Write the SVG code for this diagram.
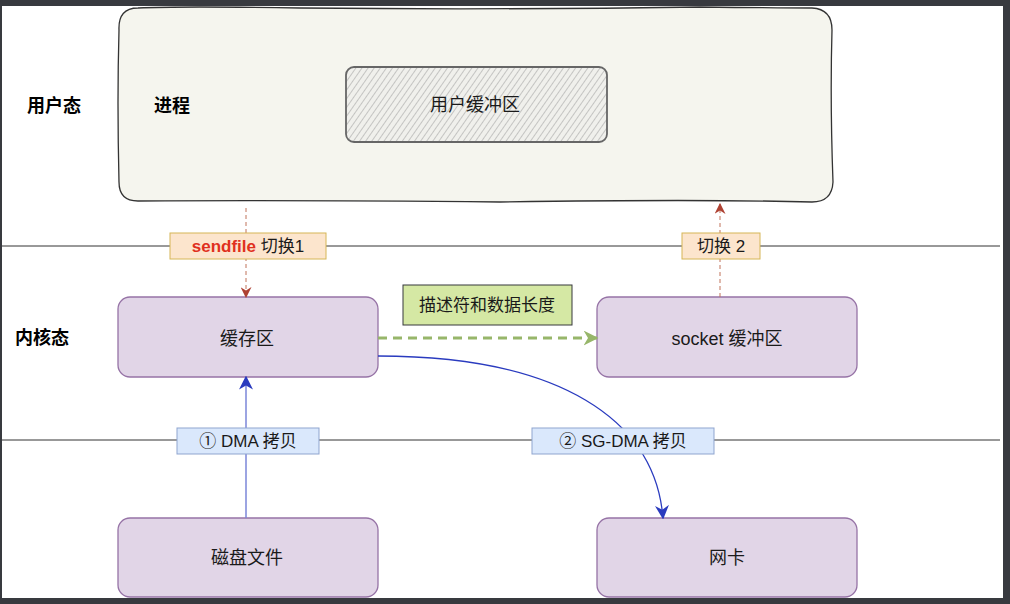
<svg xmlns="http://www.w3.org/2000/svg" width="1010" height="604" viewBox="0 0 1010 604">
<style>
.t{font-family:"Liberation Sans","Noto Sans CJK SC",sans-serif;font-size:18px;fill:#1a1a1a;text-anchor:middle;dominant-baseline:central}
.b{font-weight:bold;font-size:18px;fill:#000}
.l{font-size:17px}
.node{fill:#e1d5e7;stroke:#9673a6;stroke-width:1.3}
.sep{stroke:#333;stroke-width:1}
</style>
<defs>
<pattern id="hatch" width="5" height="5" patternUnits="userSpaceOnUse" patternTransform="rotate(35)">
<rect width="5" height="5" fill="#f0f0ec"/>
<line x1="0" y1="0" x2="0" y2="5" stroke="#999" stroke-width="1"/>
</pattern>
<marker id="mo" viewBox="0 0 10 10" refX="9" refY="5" markerWidth="11" markerHeight="11" orient="auto" markerUnits="userSpaceOnUse">
<path d="M0,0 L10,5 L0,10 L3,5 Z" fill="#ae4132"/>
</marker>
<marker id="mg" viewBox="0 0 10 10" refX="9" refY="5" markerWidth="15" markerHeight="15" orient="auto" markerUnits="userSpaceOnUse">
<path d="M0,0 L10,5 L0,10 L3,5 Z" fill="#97b66a"/>
</marker>
<marker id="mb" viewBox="0 0 10 10" refX="9" refY="5" markerWidth="14" markerHeight="14" orient="auto" markerUnits="userSpaceOnUse">
<path d="M0,0 L10,5 L0,10 L3,5 Z" fill="#2a3bbf"/>
</marker>
</defs>
<rect x="0" y="0" width="1010" height="604" fill="#383a3f"/>
<rect x="2" y="6" width="1001" height="592" fill="#ffffff"/>
<g id="separators">
<line class="sep" x1="2" y1="246" x2="1000" y2="246"/>
<line class="sep" x1="2" y1="440" x2="1000" y2="440"/>
</g>
<g id="labels-left">
<text class="t b" x="54" y="106">用户态</text>
<text class="t b" x="42" y="338">内核态</text>
</g>
<g id="process">
<path d="M138,8 Q180,6 300,8 Q500,10 700,7 Q780,8 812,8 Q832,9 832,30 Q830,100 833,182 Q832,202 812,202 Q700,199 500,202 Q300,200 138,201 Q119,201 119,182 Q117,100 119,30 Q118,8 138,8 Z" fill="#f5f5ee" stroke="#333" stroke-width="1.3"/>
<text class="t b" x="172" y="106">进程</text>
</g>
<g id="user-buffer">
<rect x="346" y="67" width="261" height="75" rx="8" fill="url(#hatch)" stroke="#666" stroke-width="1.8"/>
<text class="t" x="475" y="105" fill="#333">用户缓冲区</text>
</g>
<g id="cache">
<rect class="node" x="118" y="297" width="260" height="80" rx="12"/>
<text class="t" x="247" y="339">缓存区</text>
</g>
<g id="socket">
<rect class="node" x="597" y="297" width="260" height="80" rx="12"/>
<text class="t" x="727" y="339">socket 缓冲区</text>
</g>
<g id="disk">
<rect class="node" x="118" y="518" width="260" height="79" rx="12"/>
<text class="t" x="247" y="558">磁盘文件</text>
</g>
<g id="nic">
<rect class="node" x="597" y="518" width="260" height="79" rx="12"/>
<text class="t" x="727" y="558">网卡</text>
</g>
<g id="connectors">
<line x1="246" y1="208" x2="246" y2="297" stroke="#c0735a" stroke-width="1" stroke-dasharray="4 3" marker-end="url(#mo)"/>
<line x1="720" y1="297" x2="720" y2="204" stroke="#c0735a" stroke-width="1" stroke-dasharray="4 3" marker-end="url(#mo)"/>
<line x1="378" y1="338" x2="597" y2="338" stroke="#97b66a" stroke-width="3" stroke-dasharray="9 6" marker-end="url(#mg)"/>
<line x1="246" y1="518" x2="246" y2="377" stroke="#7b86d9" stroke-width="1.5" marker-end="url(#mb)"/>
<path d="M378,356 C560,356 655,420 663,518" fill="none" stroke="#2a3bbf" stroke-width="1.3" marker-end="url(#mb)"/>
</g>
<g id="label-sendfile">
<rect x="170" y="233" width="156" height="26" fill="#fce5cd" stroke="#d6b656" stroke-width="1"/>
<text class="t l" x="248" y="246"><tspan fill="#e0301e" font-weight="bold">sendfile</tspan> 切换1</text>
</g>
<g id="label-switch2">
<rect x="682" y="233" width="78" height="26" fill="#fce5cd" stroke="#d6b656" stroke-width="1"/>
<text class="t l" x="721" y="246">切换 2</text>
</g>
<g id="label-desc">
<rect x="403" y="285" width="169" height="40" fill="#d5e8a4" stroke="#36393d" stroke-width="1"/>
<text class="t l" x="487" y="305" fill="#333">描述符和数据长度</text>
</g>
<g id="label-dma">
<rect x="177" y="428" width="142" height="26" fill="#dae8fc" stroke="#8fa5cf" stroke-width="1"/>
<text class="t l" x="248" y="441">① DMA 拷贝</text>
</g>
<g id="label-sgdma">
<rect x="532" y="428" width="182" height="26" fill="#dae8fc" stroke="#8fa5cf" stroke-width="1"/>
<text class="t l" x="623" y="441">② SG-DMA 拷贝</text>
</g>
</svg>
